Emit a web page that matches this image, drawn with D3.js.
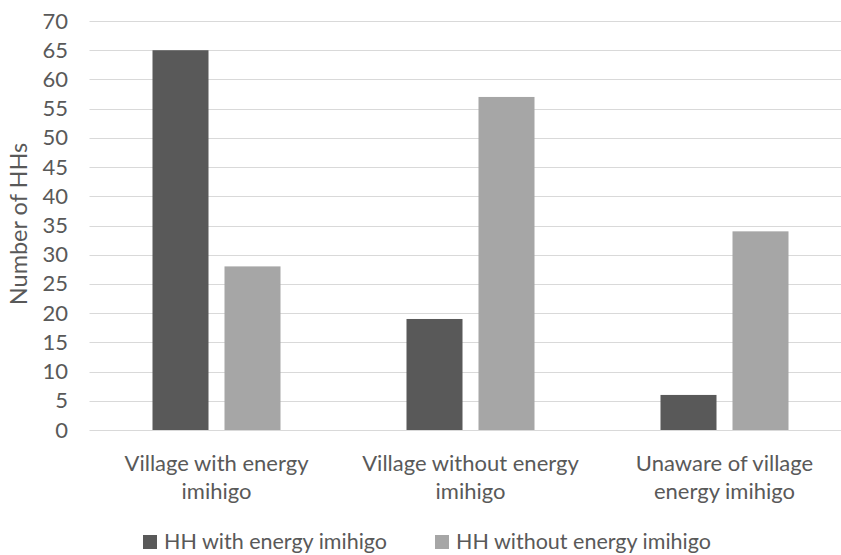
<!DOCTYPE html>
<html>
<head>
<meta charset="utf-8">
<script src="https://cdn.jsdelivr.net/npm/d3@7"></script>
<style>
  html, body { margin: 0; padding: 0; background: #fff; }
  svg { display: block; font-family: Lato, "Liberation Sans", sans-serif; }
</style>
</head>
<body>
<svg id="chart" width="841" height="555"></svg>
<script>
// Households by village imihigo status
const categories = [
  ["Village with energy", "imihigo"],
  ["Village without energy", "imihigo"],
  ["Unaware of village", "energy imihigo"]
];
const seriesNames = ["HH with energy imihigo", "HH without energy imihigo"];
const withImihigo = [65, 19, 6];
const withoutImihigo = [28, 57, 34];
const yTicks = [0, 5, 10, 15, 20, 25, 30, 35, 40, 45, 50, 55, 60, 65, 70];
const colors = ["#595959", "#a6a6a6"];

const svg = d3.select("#chart");
const W = 841;
const plotLeft = 89.5, plotRight = 851.5;
const y = d3.scaleLinear().domain([0, 70]).range([430, 21]);
const x0 = d3.scaleBand().domain(d3.range(categories.length))
  .range([plotLeft, plotRight]).paddingInner(0).paddingOuter(0);
const groupPad = 63, barGap = 16;
const barW = (x0.bandwidth() - 2 * groupPad - barGap) / 2;

const textColor = "#595959";
const fs = 22;

// gridlines
svg.append("g").selectAll("line").data(yTicks).join("line")
  .attr("x1", plotLeft).attr("x2", W)
  .attr("y1", d => Math.round(y(d)) + 0.5).attr("y2", d => Math.round(y(d)) + 0.5)
  .attr("stroke", "#d9d9d9").attr("stroke-width", 1);

// y axis labels
const yAxis = d3.axisLeft(y).tickValues(yTicks).tickSize(0).tickPadding(0);
const yg = svg.append("g").attr("transform", "translate(68,0)").call(yAxis);
yg.select(".domain").remove();
yg.selectAll("text").attr("fill", textColor).attr("font-size", fs)
  .attr("font-family", "Lato, sans-serif");

// y axis title
svg.append("text")
  .attr("transform", "translate(27,224) rotate(-90)")
  .attr("text-anchor", "middle")
  .attr("fill", textColor).attr("font-size", 23.5)
  .text("Number of HHs");

// bars
const series = [withImihigo, withoutImihigo];
series.forEach((vals, si) => {
  svg.append("g").selectAll("rect").data(vals).join("rect")
    .attr("x", (d, i) => x0(i) + groupPad + si * (barW + barGap))
    .attr("y", d => y(d))
    .attr("width", barW)
    .attr("height", d => y(0) - y(d))
    .attr("fill", colors[si]);
});

// category labels
const xl = svg.append("g");
categories.forEach((lines, i) => {
  const cx = x0(i) + x0.bandwidth() / 2;
  const t = xl.append("text")
    .attr("x", cx).attr("y", 471)
    .attr("text-anchor", "middle")
    .attr("fill", textColor).attr("font-size", fs);
  lines.forEach((ln, k) => {
    t.append("tspan").attr("x", cx).attr("dy", k === 0 ? 0 : 28).text(ln);
  });
});

// legend
const legendX = [143, 435];
seriesNames.forEach((name, si) => {
  const g = svg.append("g").attr("transform", `translate(${legendX[si]},535)`);
  g.append("rect").attr("width", 14).attr("height", 14).attr("fill", colors[si]);
  g.append("text").attr("x", 21).attr("y", 14)
    .attr("fill", textColor).attr("font-size", 21.5).text(name);
});
</script>
</body>
</html>
